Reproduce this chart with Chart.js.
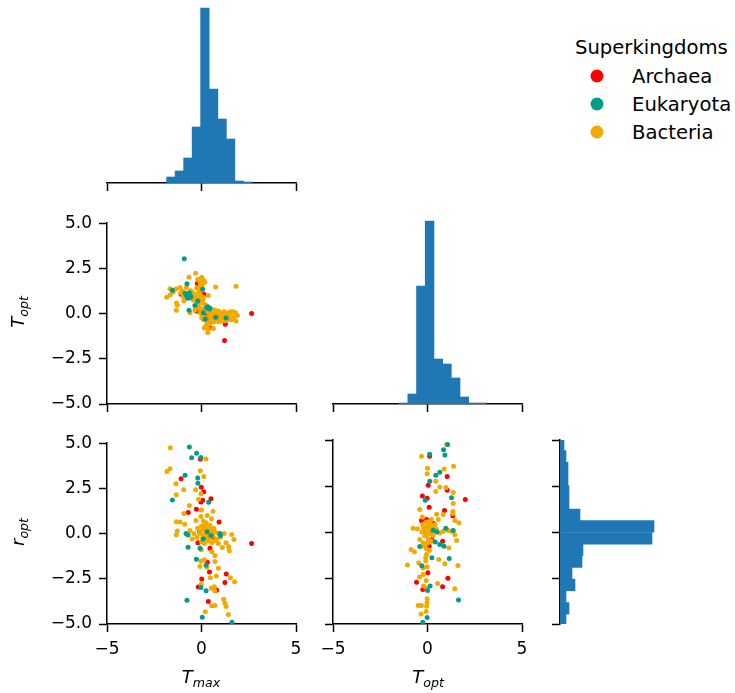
<!DOCTYPE html>
<html>
<head>
<meta charset="utf-8">
<script src="https://cdn.jsdelivr.net/npm/chart.js@4.4.1/dist/chart.umd.min.js"></script>
<style>
  body { margin: 0; background: #fff; overflow: hidden; }
  #fig { position: relative; width: 735px; height: 693px; overflow: hidden; font-family: "DejaVu Sans"; color: #000; }
  #fig canvas { position: absolute; }
  .lab { position: absolute; font-size: 18px; white-space: nowrap; transform: translate(-50%, -50%); font-style: italic; }
  .lab sub { font-size: 0.7em; vertical-align: -0.35em; }
  .rot { transform: translate(-50%, -50%) rotate(-90deg); }
  .leg { position: absolute; font-size: 19.6px; white-space: nowrap; transform: translateY(-50%); }
  .dot { position: absolute; width: 13px; height: 13px; border-radius: 50%; transform: translate(-50%, -50%); }
</style>
</head>
<body>
<div id="fig">
  <canvas id="histTmax"></canvas>
  <canvas id="scTmaxTopt"></canvas>
  <canvas id="histTopt"></canvas>
  <canvas id="scTmaxRopt"></canvas>
  <canvas id="scToptRopt"></canvas>
  <canvas id="histRopt"></canvas>

  <!-- etiquetas de ejes -->
  <div class="lab rot" style="left:19px; top:312px">T<sub>opt</sub></div>
  <div class="lab rot" style="left:19px; top:532px">r<sub>opt</sub></div>
  <div class="lab" style="left:201px; top:678px">T<sub>max</sub></div>
  <div class="lab" style="left:428px; top:678px">T<sub>opt</sub></div>

  <!-- leyenda -->
  <div class="leg" style="left:575px; top:47px">Superkingdoms</div>
  <span class="dot" style="left:597px; top:76px; background:#FF0000"></span>
  <div class="leg" style="left:632px; top:76px">Archaea</div>
  <span class="dot" style="left:597px; top:104px; background:#009E89"></span>
  <div class="leg" style="left:632px; top:104px">Eukaryota</div>
  <span class="dot" style="left:597px; top:132px; background:#F2AA00"></span>
  <div class="leg" style="left:632px; top:132px">Bacteria</div>
</div>

<script>
// ---- DATA ----
// histogramas (centros de bin y conteos)
const tmaxBins = [-1.62, -1.17, -0.72, -0.27, 0.18, 0.64, 1.09, 1.54, 1.99, 2.44];
const tmaxCounts = [6, 12, 25, 56, 175, 94, 64, 44, 2, 1];
const toptBins = [-1.27, -0.81, -0.35, 0.11, 0.57, 1.03, 1.49, 1.95, 2.41, 2.87];
const toptCounts = [1, 10, 118, 183, 45, 40, 26, 7, 1, 1];
const roptBins = [-4.78, -4.15, -3.51, -2.88, -2.24, -1.61, -0.97, -0.34, 0.30, 0.93, 1.57, 2.20, 2.84, 3.47, 4.11, 4.74];
const roptCounts = [6, 9, 6, 15, 12, 22, 23, 92, 94, 20, 9, 9, 8, 8, 6, 4];

// ticks
const axisTicks = [-5, 0, 5];
const rowTicks = [-5, -2.5, 0, 2.5, 5];

// Tmax vs Topt  [x, y]
const tmaxToptArchaea = [[-1.08,1.07],[0.13,1.07],[2.65,0.01],[1.26,-0.59],[1.22,-1.49],[0.45,-0.77],[-0.22,1.67],[-0.26,0.14],[0.2,-0.1],[0.9,-0.3],[0.55,0.05],[-0.1,0.6],[1.5,-0.2],[0.35,-0.35]];
const tmaxToptEukaryota = [[-0.91,3.04],[-0.77,1.65],[-1.54,1.29],[-0.70,1.04],[-0.61,0.89],[-0.87,1.13],[-0.78,0.98],[-0.65,1.15],[-0.55,0.95],[-0.72,0.85],[0.06,1.35],[0.27,0.32],[0.40,0.26],[0.33,0.38],[0.45,0.30],[-0.66,0.19],[-0.2,0.7],[0.1,0.05],[0.75,-0.2],[1.3,-0.25],[0.2,-0.3],[-0.35,0.45]];
const tmaxToptBacteria = [[-0.31,2.23],[-0.66,2.01],[0.01,2.01],[0.10,1.85],[0.17,1.73],[-0.08,1.76],[0.75,1.47],[1.83,1.51],[-1.67,1.38],[-1.84,0.91],[-1.65,1.04],[-1.14,1.44],[-1.35,1.36],[-1.32,0.59],[-1.33,0.19],[-1.28,0.46],[-0.96,0.95],[-0.93,0.71],[-0.57,1.26],[-0.43,1.13],[-0.26,1.40],[-0.17,1.13],[-0.08,0.86],[-0.26,0.68],[0.01,0.59],[0.15,0.53],[0.36,1.00],[-0.61,0.05],[-0.08,0.05],[0.10,-0.14],[0.27,-0.41],[0.24,-0.68],[0.63,-0.82],[0.33,-1.04],[0.45,-0.59],[0.63,0.05],[0.89,0.14],[1.15,0.0],[1.42,-0.05],[1.68,0.1],[1.72,-0.19],[1.83,-0.41],[1.51,-0.23],[0.98,-0.19],[0.71,-0.19],[1.24,-0.32],[1.6,-0.34],[0.84,-0.32],[0.54,-0.23],[1.07,-0.41],[0.10,-0.32],[0.01,-0.23],[0.19,0.14],[0.45,-0.08],[-0.1,1.5],[0.05,1.6],[-0.2,1.9],[0.0,1.3],[-0.05,1.0],[0.08,0.8],[-0.15,0.35],[0.2,0.3],[0.3,0.1],[0.4,-0.15],[0.6,-0.3],[0.8,-0.05],[0.95,-0.3],[1.1,-0.2],[1.3,-0.1],[1.35,-0.35],[1.45,0.05],[1.7,-0.3],[1.55,0.1],[1.2,0.1],[0.7,0.2],[0.5,0.25],[0.9,-0.45],[0.3,-0.55],[0.15,-0.8],[0.35,-0.85],[-1.0,1.25],[-0.8,1.45],[-1.5,1.2],[-1.1,1.15],[-0.3,0.9],[-0.45,0.75],[-0.35,0.2],[0.0,0.25],[0.25,0.45],[1.9,-0.1],[1.8,0.05],[1.0,0.05],[0.65,-0.45],[0.5,-0.4],[0.75,-0.35],[1.0,-0.35],[1.2,-0.4],[1.45,-0.3],[1.6,-0.15],[1.3,0.05],[0.85,0.0],[0.55,0.0],[0.25,-0.25],[0.05,-0.05],[-0.1,0.3],[-0.2,0.5],[0.1,0.9],[-0.1,1.2]];

// Tmax vs ropt
const tmaxRoptArchaea = [[-0.06,4.12],[-1.08,3.03],[-0.01,2.56],[0.12,2.31],[0.5,1.93],[-0.03,1.75],[0.06,1.84],[-0.7,1.17],[-0.27,1.35],[0.93,0.64],[2.65,-0.55],[-0.19,-0.5],[0.45,-0.81],[0.31,-1.58],[0.42,-2.13],[1.31,-2.24],[1.24,-2.71],[0.01,-2.51],[-0.17,-2.96],[0.8,-3.13],[0.36,-3.76],[0.2,0.3],[0.6,-0.2],[-0.1,0.1]];
const tmaxRoptEukaryota = [[-0.64,4.79],[-0.26,4.45],[-0.52,4.19],[-0.03,4.21],[-0.87,3.23],[-0.2,3.07],[-0.19,2.78],[-1.54,1.86],[0.38,1.73],[-0.82,0.01],[-0.71,-0.08],[-0.71,-0.75],[-0.08,-0.81],[-0.27,-1.42],[0.24,-1.75],[-0.03,-2.98],[0.24,-3.16],[-0.77,-3.69],[0.04,-4.63],[1.61,-4.9],[0.98,0.01],[0.3,0.1],[0.5,-0.1],[0.1,-0.3],[1.0,-0.1]];
const tmaxRoptBacteria = [[-1.65,4.75],[-1.83,3.43],[-1.67,3.58],[-1.35,2.76],[-1.33,2.15],[-0.94,2.42],[-0.31,2.42],[-0.06,3.47],[0.12,3.16],[-0.03,2.2],[0.24,4.12],[-0.64,1.55],[-0.93,1.11],[0.61,1.24],[0.53,0.82],[-0.29,0.73],[-1.33,0.66],[-1.14,0.64],[-0.89,0.52],[-1.28,0.15],[-1.33,-0.06],[-0.61,0.17],[-0.03,0.95],[1.6,-0.05],[1.72,-0.32],[1.44,-0.73],[1.47,-0.95],[1.1,-0.77],[0.89,-0.55],[-0.01,-0.9],[0.55,-1.0],[0.71,-1.22],[0.15,-1.44],[-0.03,-1.53],[-0.08,-1.82],[0.28,-1.86],[0.71,-1.55],[0.89,-1.91],[0.78,-2.35],[0.47,-2.44],[1.53,-2.44],[1.75,-2.66],[-0.01,-2.8],[0.52,-3.02],[0.68,-2.94],[0.7,-3.16],[1.17,-3.63],[1.24,-3.85],[1.3,-4.03],[0.54,-3.99],[0.71,-3.97],[0.2,-4.32],[1.42,-4.47],[0.27,0.05],[-0.2,0.3],[-0.1,0.0],[0.0,0.4],[0.1,0.2],[0.2,-0.2],[0.3,0.35],[0.4,0.0],[0.5,0.2],[0.6,-0.1],[0.7,0.1],[0.8,-0.3],[0.9,0.0],[0.35,-0.4],[0.15,-0.55],[-0.25,-0.2],[0.05,-0.25],[0.45,0.45],[0.65,0.3],[1.0,-0.2],[1.2,0.0],[1.3,-0.5],[0.25,0.6],[-0.4,0.0],[-0.5,-0.3],[0.55,-0.5],[0.1,0.7],[0.0,1.3],[0.3,1.0],[-0.15,1.9],[0.1,-0.1],[0.25,0.15],[0.45,-0.25],[0.15,0.45],[-0.05,0.15],[0.6,0.05],[0.35,-0.15],[0.0,-0.45],[0.7,-0.4]];

// Topt vs ropt
const toptRoptArchaea = [[0.11,4.12],[1.04,3.01],[0.04,2.54],[1.04,2.27],[-0.27,1.95],[-0.02,1.84],[2.0,1.76],[0.09,1.35],[0.9,1.17],[1.34,0.88],[-0.32,0.62],[-0.05,0.68],[0.32,0.46],[0.8,-0.5],[0.23,-0.41],[0.09,-0.77],[1.08,-2.51],[-0.58,-2.73],[0.8,-2.98],[-0.25,-3.13],[0.02,-2.22],[0.1,0.1]];
const toptRoptEukaryota = [[1.06,4.75],[0.11,4.23],[0.85,4.47],[0.92,4.19],[0.65,3.25],[0.44,3.09],[0.12,2.76],[1.27,1.86],[-0.12,1.73],[-0.41,-0.79],[0.41,-0.55],[0.65,-0.68],[0.87,-0.77],[0.23,-1.4],[1.15,-1.44],[-0.3,-1.84],[0.14,-2.94],[0,-3.18],[1.64,-3.69],[-0.02,-4.65],[-0.25,-4.9],[1.36,0.08],[0.97,0.21],[0.3,0.1],[0.5,0.0]];
const toptRoptBacteria = [[1.02,4.75],[-0.32,4.12],[0,3.47],[-0.02,3.16],[1.38,3.58],[0.88,3.43],[0.44,2.76],[0.65,2.44],[0.44,2.2],[0.97,2.42],[1.36,2.15],[1.36,1.55],[1.34,1.11],[1.34,1.0],[-0.41,1.22],[-0.27,0.82],[0.48,0.97],[0.83,0.95],[1.45,0.62],[1.66,0.5],[-0.76,0.21],[-0.53,0.17],[1.45,-0.15],[1.54,-0.46],[1.13,-0.86],[-0.87,-0.95],[-0.69,-1.07],[-1.06,-1.8],[-0.46,-1.68],[0.6,-1.49],[0.92,-1.73],[1.61,-1.82],[-0.42,-2.44],[-0.23,-2.31],[-0.07,-2.64],[-0.21,-2.94],[-0.04,-3.07],[0.53,-2.8],[1.45,-3.09],[-0.02,-3.63],[-0.02,-3.85],[-0.49,-3.99],[-0.32,-3.99],[-0.05,-4.03],[-0.34,-4.45],[-0.07,-4.32],[-0.05,-1.22],[-0.09,-1.58],[-0.02,-1.89],[-0.23,-1.95],[0.12,0.59],[0.3,0.32],[0.48,0.14],[0.65,-0.05],[0.83,0.04],[1.1,0.08],[1.27,0.04],[-0.41,-0.41],[-0.23,-0.59],[-0.19,-0.77],[-0.05,-0.91],[0.21,0.68],[0.57,0.68],[-0.2,0.2],[-0.1,0.0],[0.0,0.3],[0.1,-0.1],[0.2,0.2],[0.3,-0.2],[0.05,-0.4],[-0.15,-0.2],[0.15,0.45],[-0.05,0.55],[0.25,0.0],[0.35,0.1],[-0.3,0.0],[0.0,-0.6],[0.1,-1.0],[-0.1,-1.4],[0.4,0.4],[-0.25,0.4],[0.05,0.1],[0.2,-0.5],[-0.05,-0.2],[0.1,0.35],[0.2,-0.05],[-0.15,0.1],[0.0,0.0]];

// ---- ESTILO ----
const ARCHAEA = "#FF0000";
const EUKARYOTA = "#009E89";
const BACTERIA = "#F2AA00";
const HIST = "#1F77B4";
const BLACK = "#000";
const FONT = { family: "DejaVu Sans", size: 17 };

// margenes alrededor del area de dibujo
const YW = 70, XH = 48, PT = 14, PR = 24;

function fmtRow(v) {
  return v.toFixed(1).replace("-", "\u2212");
}
function fmtCol(v) {
  return String(v).replace("-", "\u2212");
}

// mode: 'full' = ticks + etiquetas, 'ticks' = solo marcas, 'none' = oculto
function scaleOpts(min, max, ticks, mode, fmt, horizontal) {
  const shown = mode !== "none";
  return {
    type: "linear",
    min: min,
    max: max,
    offset: false,
    afterBuildTicks: (s) => {
      if (ticks) s.ticks = ticks.map((v) => ({ value: v }));
    },
    afterFit: (s) => {
      if (horizontal) s.height = XH;
      else s.width = YW;
    },
    border: { display: shown, color: BLACK, width: 1.5 },
    grid: {
      display: shown,
      offset: false,
      drawOnChartArea: false,
      drawTicks: true,
      tickLength: 8,
      tickColor: BLACK,
      tickWidth: 1.5,
    },
    ticks: {
      display: mode === "full",
      font: FONT,
      color: BLACK,
      padding: 7,
      maxRotation: 0,
      autoSkip: false,
      callback: fmt || ((v) => v),
    },
  };
}

function placeCanvas(id, left, top, w, h) {
  const c = document.getElementById(id);
  c.width = YW + w + PR;
  c.height = PT + h + XH;
  c.style.left = left - YW + "px";
  c.style.top = top - PT + "px";
  return c;
}

function baseOptions() {
  return {
    responsive: false,
    animation: false,
    events: [],
    layout: { padding: { top: PT, right: PR, left: 0, bottom: 0 } },
    plugins: { legend: { display: false }, tooltip: { enabled: false } },
  };
}

function pts(arr) {
  return arr.map((p) => ({ x: p[0], y: p[1] }));
}

function scatterSet(arr, color) {
  return {
    data: pts(arr),
    backgroundColor: color,
    borderWidth: 0,
    pointRadius: 2.5,
  };
}

// el primer dataset queda encima: Eukaryota arriba, luego Bacteria, Archaea debajo
function createScatter(id, left, top, w, h, archaea, eukaryota, bacteria, xMode, yMode) {
  const c = placeCanvas(id, left, top, w, h);
  const opts = baseOptions();
  opts.scales = {
    x: scaleOpts(-5, 5, axisTicks, xMode, fmtCol, true),
    y: scaleOpts(-5, 5, rowTicks, yMode, fmtRow, false),
  };
  new Chart(c.getContext("2d"), {
    type: "scatter",
    data: {
      datasets: [
        scatterSet(eukaryota, EUKARYOTA),
        scatterSet(bacteria, BACTERIA),
        scatterSet(archaea, ARCHAEA),
      ],
    },
    options: opts,
  });
}

function createHist(id, left, top, w, h, bins, counts, maxCount, vertical) {
  const c = placeCanvas(id, left, top, w, h);
  const opts = baseOptions();
  let data;
  if (vertical) {
    data = bins.map((b, i) => ({ x: b, y: counts[i] }));
    opts.scales = {
      x: scaleOpts(-5, 5, axisTicks, "ticks", null, true),
      y: scaleOpts(0, maxCount, null, "none", null, false),
    };
  } else {
    opts.indexAxis = "y";
    data = bins.map((b, i) => ({ x: counts[i], y: b }));
    opts.scales = {
      x: scaleOpts(0, maxCount, null, "none", null, true),
      y: scaleOpts(-5, 5, rowTicks, "ticks", null, false),
    };
  }
  new Chart(c.getContext("2d"), {
    type: "bar",
    data: {
      datasets: [
        {
          data: data,
          backgroundColor: HIST,
          borderWidth: 0,
          barPercentage: 1,
          categoryPercentage: 1,
        },
      ],
    },
    options: opts,
  });
}

// columnas: 107 / 333 / 560 ; filas: 0 / 220 / 440
createHist("histTmax", 107, 0, 189, 183, tmaxBins, tmaxCounts, 183, true);
createScatter("scTmaxTopt", 107, 220, 189, 184, tmaxToptArchaea, tmaxToptEukaryota, tmaxToptBacteria, "ticks", "full");
createHist("histTopt", 333, 220, 189, 184, toptBins, toptCounts, 184, true);
createScatter("scTmaxRopt", 107, 440, 189, 184, tmaxRoptArchaea, tmaxRoptEukaryota, tmaxRoptBacteria, "full", "full");
createScatter("scToptRopt", 333, 440, 189, 184, toptRoptArchaea, toptRoptEukaryota, toptRoptBacteria, "full", "ticks");
createHist("histRopt", 560, 440, 189, 184, roptBins, roptCounts, 189, false);
</script>
</body>
</html>
